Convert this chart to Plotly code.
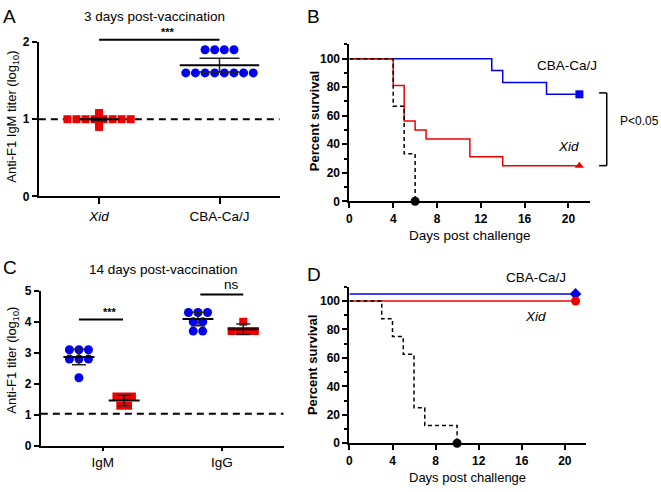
import plotly.graph_objects as go
from collections import Counter

# ---- data ----
# panel A: 3 days post-vaccination, IgM titer (log10)
a_groups = ['<i>Xid</i>', 'CBA-Ca/J']
a_xid = [1.0, 1.0, 1.0, 1.0, 1.0, 1.0, 1.0, 1.0, 1.08, 1.05, 0.90, 0.96]
a_cba = [1.9, 1.9, 1.9, 1.9, 1.6, 1.6, 1.6, 1.6, 1.6, 1.6, 1.6, 1.6]
a_mean = [1.0, 1.7]
a_err = [0.02, 0.09]

# panel B: survival after challenge (3 dpv)
b_cba_days = [0, 13, 14, 18, 21]
b_cba_surv = [100, 91.7, 83.3, 75, 75]
b_xid_days = [0, 4, 5, 6, 7, 11, 14, 21]
b_xid_surv = [100, 81.25, 56.25, 50, 43.75, 31.25, 25, 25]
b_ctl_days = [0, 4, 5, 6]
b_ctl_surv = [100, 66.7, 33.3, 0]

# panel C: 14 days post-vaccination
c_groups = ['IgM', 'IgG']
c_igm_cba = [3.1, 3.1, 3.1, 2.8, 2.8, 2.8, 2.2]
c_igm_xid = [1.6, 1.6, 1.6, 1.3, 1.3]
c_igg_cba = [4.3, 4.3, 4.3, 4.0, 4.0, 3.7, 3.7]
c_igg_xid = [4.0, 3.7, 3.7, 3.7, 3.7]
c_mean_cba = [2.87, 4.09]
c_err_cba = [0.25, 0.22]
c_mean_xid = [1.47, 3.76]
c_err_xid = [0.17, 0.17]

# panel D: survival after challenge (14 dpv)
d_cba_days = [0, 21]
d_cba_surv = [105, 105]
d_xid_days = [0, 21]
d_xid_surv = [100, 100]
d_ctl_days = [0, 3, 4, 5, 6, 7, 10]
d_ctl_surv = [100, 87.5, 75, 62.5, 25, 12.5, 0]

BLUE = '#0000ee'
RED = '#ee0000'
FONT = 'Arial, Liberation Sans, sans-serif'
W, H = 661, 492


def swarm(center, values, spacing):
    counts = Counter(values)
    seen = {}
    xs = []
    for v in values:
        n = counts[v]
        i = seen.get(v, 0)
        seen[v] = i + 1
        xs.append(center + (i - (n - 1) / 2) * spacing)
    return xs


def px(x0, x1):
    return [x0 / W, x1 / W]


def py(top, bottom):
    return [1 - bottom / H, 1 - top / H]


fig = go.Figure()

# axis domains in pixels
dom = {
    'A': (px(36, 278), py(36, 195), [-0.5, 1.5], [0, 2]),
    'B': (px(348, 590), py(38.5, 200), [0, 22], [0, 110]),
    'C': (px(38, 282), py(292, 452), [-0.52, 1.52], [0, 5]),
    'D': (px(348, 586), py(288, 449), [0, 22], [0, 110]),
}
axn = {'A': ('x', 'y'), 'B': ('x2', 'y2'), 'C': ('x3', 'y3'), 'D': ('x4', 'y4')}


def to_paper(panel, x=None, y=None):
    xd, yd, xr, yr = dom[panel]
    out = []
    if x is not None:
        out.append(xd[0] + (x - xr[0]) / (xr[1] - xr[0]) * (xd[1] - xd[0]))
    if y is not None:
        out.append(yd[0] + (y - yr[0]) / (yr[1] - yr[0]) * (yd[1] - yd[0]))
    return out[0] if len(out) == 1 else out


def add(panel, trace):
    xa, ya = axn[panel]
    trace.update(xaxis=xa, yaxis=ya)
    fig.add_trace(trace)


def mean_bar(panel, cx, m, e, half, cap):
    add(panel, go.Scatter(x=[cx], y=[m], mode='markers', marker=dict(size=1, opacity=0),
                          error_y=dict(type='data', array=[e], width=cap, thickness=1.5, color='#222')))
    add(panel, go.Scatter(x=[cx - half, cx + half], y=[m, m], mode='lines',
                          line=dict(color='black', width=2)))


# ---- panel A ----
add('A', go.Scatter(x=[-0.5, 1.5], y=[1, 1], mode='lines',
                    line=dict(color='black', width=2, dash='7px,5px')))
add('A', go.Scatter(x=swarm(0, a_xid, 0.075), y=a_xid, mode='markers',
                    marker=dict(symbol='square', size=8, color=RED), cliponaxis=False))
add('A', go.Scatter(x=swarm(1, a_cba, 0.08), y=a_cba, mode='markers',
                    marker=dict(symbol='circle', size=9, color=BLUE), cliponaxis=False))
mean_bar('A', 0, a_mean[0], a_err[0], 0.17, 8)
mean_bar('A', 1, a_mean[1], a_err[1], 0.33, 20)

# ---- panel B ----
add('B', go.Scatter(x=b_cba_days, y=b_cba_surv, mode='lines', line_shape='hv',
                    line=dict(color=BLUE, width=1.5)))
add('B', go.Scatter(x=b_xid_days, y=b_xid_surv, mode='lines', line_shape='hv',
                    line=dict(color=RED, width=1.5)))
add('B', go.Scatter(x=b_ctl_days, y=b_ctl_surv, mode='lines', line_shape='hv',
                    line=dict(color='black', width=1.5, dash='4px,3px')))
add('B', go.Scatter(x=b_cba_days[-1:], y=b_cba_surv[-1:], mode='markers',
                    marker=dict(symbol='square', size=8, color=BLUE), cliponaxis=False))
add('B', go.Scatter(x=b_xid_days[-1:], y=b_xid_surv[-1:], mode='markers',
                    marker=dict(symbol='triangle-up', size=8, color=RED), cliponaxis=False))
add('B', go.Scatter(x=b_ctl_days[-1:], y=b_ctl_surv[-1:], mode='markers',
                    marker=dict(symbol='circle', size=9, color='black'), cliponaxis=False))

# ---- panel C ----
add('C', go.Scatter(x=[-0.52, 1.52], y=[1.04, 1.04], mode='lines',
                    line=dict(color='black', width=2, dash='7px,5px')))
c_off = 0.2
for i, (blue_vals, red_vals) in enumerate([(c_igm_cba, c_igm_xid), (c_igg_cba, c_igg_xid)]):
    add('C', go.Scatter(x=swarm(i - c_off, blue_vals, 0.08), y=blue_vals, mode='markers',
                        marker=dict(symbol='circle', size=9, color=BLUE)))
    add('C', go.Scatter(x=swarm(i + c_off - 0.02, red_vals, 0.065), y=red_vals, mode='markers',
                        marker=dict(symbol='square', size=8, color=RED)))
    mean_bar('C', i - c_off, c_mean_cba[i], c_err_cba[i], 0.13, 7)
    mean_bar('C', i + c_off - 0.02, c_mean_xid[i], c_err_xid[i], 0.13, 7)

# ---- panel D ----
add('D', go.Scatter(x=d_cba_days, y=d_cba_surv, mode='lines', line=dict(color=BLUE, width=1.5)))
add('D', go.Scatter(x=d_xid_days, y=d_xid_surv, mode='lines', line=dict(color=RED, width=1.5)))
add('D', go.Scatter(x=d_ctl_days, y=d_ctl_surv, mode='lines', line_shape='hv',
                    line=dict(color='black', width=1.5, dash='4px,3px')))
add('D', go.Scatter(x=d_cba_days[-1:], y=d_cba_surv[-1:], mode='markers',
                    marker=dict(symbol='diamond', size=9, color=BLUE), cliponaxis=False))
add('D', go.Scatter(x=d_xid_days[-1:], y=d_xid_surv[-1:], mode='markers',
                    marker=dict(symbol='circle', size=9, color=RED), cliponaxis=False))
add('D', go.Scatter(x=d_ctl_days[-1:], y=d_ctl_surv[-1:], mode='markers',
                    marker=dict(symbol='circle', size=9, color='black'), cliponaxis=False))

# ---- axes ----
base = dict(showline=True, linecolor='black', linewidth=2, ticks='outside', ticklen=5,
            tickwidth=1.5, tickcolor='black', showgrid=False, zeroline=False, fixedrange=True,
            tickfont=dict(family=FONT, size=12, color='black', weight='bold'))
lay = {}
for i, p in enumerate('ABCD'):
    xd, yd, xr, yr = dom[p]
    sfx = '' if i == 0 else str(i + 1)
    xa = dict(base, domain=xd, range=xr, anchor='y' + sfx)
    ya = dict(base, domain=yd, range=yr, anchor='x' + sfx)
    if p in 'BD':
        xa.update(tickvals=[0, 4, 8, 12, 16, 20])
        ya.update(tickvals=[0, 20, 40, 60, 80, 100],
                  minor=dict(dtick=10, ticklen=3, tickwidth=1.5, tickcolor='black', ticks='outside'))
    elif p == 'A':
        xa.update(tickvals=[0, 1], ticktext=a_groups, ticklen=6,
                  tickfont=dict(family=FONT, size=13.5, color='black'))
        ya.update(tickvals=[0, 1, 2])
    else:
        xa.update(tickvals=[0, 1], ticktext=c_groups, ticklen=3,
                  tickfont=dict(family=FONT, size=13.5, color='black'))
        ya.update(tickvals=[0, 1, 2, 3, 4, 5])
    lay['xaxis' + sfx] = xa
    lay['yaxis' + sfx] = ya

ann = []
shapes = []


def text(x, y, s, size=13.5, angle=0, anchor='center', **kw):
    ann.append(dict(x=x / W, y=1 - y / H, xref='paper', yref='paper', text=s, showarrow=False,
                    textangle=angle, font=dict(family=FONT, size=size, color='black', **kw),
                    xanchor=anchor, yanchor='middle'))


def seg(panel, x0, y0, x1, y1, w=2):
    p0 = to_paper(panel, x0, y0)
    p1 = to_paper(panel, x1, y1)
    shapes.append(dict(type='line', xref='paper', yref='paper', x0=p0[0], y0=p0[1],
                       x1=p1[0], y1=p1[1], line=dict(color='black', width=w)))


# panel letters and titles
text(7, 10, 'A', size=19)
text(312, 10, 'B', size=19)
text(7, 268, 'C', size=19)
text(312, 275, 'D', size=19)
text(152, 10, '3 days post-vaccination')
text(161, 270, '14 days post-vaccination')
text(10, 113, 'Anti-F1 IgM titer (log<sub>10</sub>)', size=13, angle=-90)
text(10, 363, 'Anti-F1 titer (log<sub>10</sub>)', size=13, angle=-90)
text(313, 118, 'Percent survival', size=13, angle=-90, weight='bold')
text(311, 369, 'Percent survival', size=13, angle=-90, weight='bold')
text(469, 235, 'Days post challenge')
text(467, 484, 'Days post challenge', size=13)

# curve labels
text(567, 60, 'CBA-Ca/J')
text(568, 144, '<i>Xid</i>')
text(535, 278, 'CBA-Ca/J')
text(535, 319, '<i>Xid</i>')

# significance bars
seg('A', 0, 2.03, 1, 2.03)
p = to_paper('A', 0.5, 2.03)
ann.append(dict(x=p[0], y=p[1], xref='paper', yref='paper', text='***', showarrow=False,
                yanchor='bottom', font=dict(family=FONT, size=11, color='black', weight='bold')))
seg('C', -0.2, 4.07, 0.17, 4.07)
p = to_paper('C', -0.015, 4.07)
ann.append(dict(x=p[0], y=p[1], xref='paper', yref='paper', text='***', showarrow=False,
                yanchor='bottom', font=dict(family=FONT, size=11, color='black', weight='bold')))
seg('C', 0.82, 4.88, 1.18, 4.88)
p = to_paper('C', 1.0, 4.88)
ann.append(dict(x=p[0], y=p[1], xref='paper', yref='paper', text='ns', showarrow=False,
                yanchor='bottom', font=dict(family=FONT, size=13.5, color='black')))

# bracket in B
seg('B', 22.8, 76, 23.5, 76, 1.5)
seg('B', 23.5, 76, 23.5, 25, 1.5)
seg('B', 22.8, 25, 23.5, 25, 1.5)
text(618, 117, 'P&lt;0.05', size=12, anchor='left')

fig.update_layout(width=W, height=H, margin=dict(l=0, r=0, t=0, b=0),
                  plot_bgcolor='white', paper_bgcolor='white', showlegend=False,
                  annotations=ann, shapes=shapes, **lay)

# page body has a default margin; drop it so the figure sits at the window's origin
fig.write_html("out.html", config={'displayModeBar': False},
               post_script="document.body.style.margin='0px';document.body.style.overflow='hidden';")
